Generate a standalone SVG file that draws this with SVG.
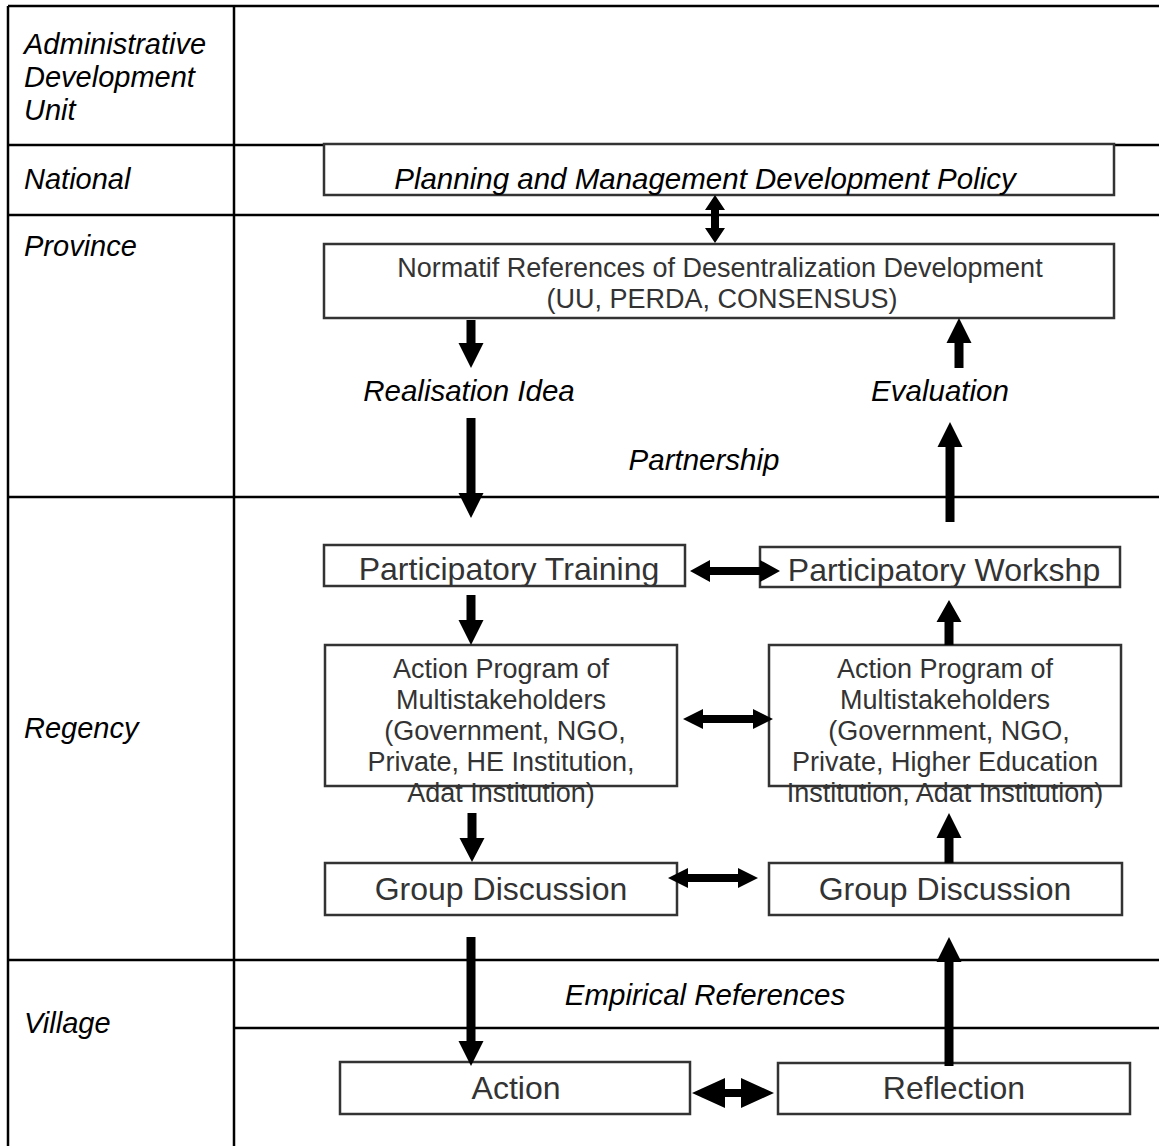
<svg xmlns="http://www.w3.org/2000/svg" width="1159" height="1146" viewBox="0 0 1159 1146">
<style>
.grid{stroke:#000;stroke-width:2.5;fill:none}
.box{fill:#fff;stroke:#333;stroke-width:2.5}
.lbl{font-family:"Liberation Sans",Arial,sans-serif;font-style:italic;font-size:29px;fill:#000}
.mid{font-family:"Liberation Sans",Arial,sans-serif;font-style:italic;font-size:29.5px;fill:#000;text-anchor:middle}
.t27{font-family:"Liberation Sans",Arial,sans-serif;font-size:27px;fill:#333;text-anchor:middle}
.t32{font-family:"Liberation Sans",Arial,sans-serif;font-size:32px;fill:#333;text-anchor:middle}
.arr{fill:#000;stroke:none}
</style>
<rect width="1159" height="1146" fill="#fff"/>
<g id="table">
<line class="grid" x1="8" y1="6" x2="1159" y2="6"/>
<line class="grid" x1="8" y1="6" x2="8" y2="1146"/>
<line class="grid" x1="234" y1="6" x2="234" y2="1146"/>
<line class="grid" x1="8" y1="145" x2="1159" y2="145"/>
<line class="grid" x1="8" y1="215" x2="1159" y2="215"/>
<line class="grid" x1="8" y1="497" x2="1159" y2="497"/>
<line class="grid" x1="8" y1="960" x2="1159" y2="960"/>
<line class="grid" x1="234" y1="1028" x2="1159" y2="1028"/>
</g>
<g id="labels">
<text class="lbl" x="24" y="54">Administrative</text>
<text class="lbl" x="24" y="87">Development</text>
<text class="lbl" x="24" y="120">Unit</text>
<text class="lbl" x="24" y="189">National</text>
<text class="lbl" x="24" y="256">Province</text>
<text class="lbl" x="24" y="738">Regency</text>
<text class="lbl" x="24" y="1033">Village</text>
<text class="mid" x="469" y="401">Realisation Idea</text>
<text class="mid" x="940" y="401">Evaluation</text>
<text class="mid" x="704" y="470">Partnership</text>
<text class="mid" x="705" y="1005">Empirical References</text>
</g>
<g id="planning">
<rect class="box" x="324" y="144" width="790" height="51"/>
<text class="mid" x="705" y="189">Planning and Management Development Policy</text>
</g>
<g id="normatif">
<rect class="box" x="324" y="244" width="790" height="74"/>
<text class="t27" x="720" y="277">Normatif References of Desentralization Development</text>
<text class="t27" x="722" y="308">(UU, PERDA, CONSENSUS)</text>
</g>
<g id="training">
<rect class="box" x="324" y="545" width="361" height="41"/>
<text class="t32" x="509" y="580">Participatory Training</text>
</g>
<g id="workshop">
<rect class="box" x="760" y="547" width="360" height="40"/>
<text class="t32" x="944" y="581">Participatory Workshp</text>
</g>
<g id="action-program-left">
<rect class="box" x="325" y="645" width="352" height="141"/>
<text class="t27" x="501" y="678">Action Program of</text>
<text class="t27" x="501" y="709">Multistakeholders</text>
<text class="t27" x="505" y="740">(Government, NGO,</text>
<text class="t27" x="501" y="771">Private, HE Institution,</text>
<text class="t27" x="501" y="802">Adat Institution)</text>
</g>
<g id="action-program-right">
<rect class="box" x="769" y="645" width="352" height="141"/>
<text class="t27" x="945" y="678">Action Program of</text>
<text class="t27" x="945" y="709">Multistakeholders</text>
<text class="t27" x="949" y="740">(Government, NGO,</text>
<text class="t27" x="945" y="771">Private, Higher Education</text>
<text class="t27" x="945" y="802">Institution, Adat Institution)</text>
</g>
<g id="group-left">
<rect class="box" x="325" y="863" width="352" height="52"/>
<text class="t32" x="501" y="900">Group Discussion</text>
</g>
<g id="group-right">
<rect class="box" x="769" y="863" width="353" height="52"/>
<text class="t32" x="945" y="900">Group Discussion</text>
</g>
<g id="action">
<rect class="box" x="340" y="1062" width="350" height="52"/>
<text class="t32" x="516" y="1099">Action</text>
</g>
<g id="reflection">
<rect class="box" x="778" y="1063" width="352" height="51"/>
<text class="t32" x="954" y="1099">Reflection</text>
</g>
<g id="connectors">
<path class="arr" d="M715 195 L725 210 L719 210 L719 228 L725 228 L715 243 L705 228 L711 228 L711 210 L705 210 Z"/>
<path class="arr" d="M466.5 320 L475.5 320 L475.5 343 L483.5 343 L471 368 L458.5 343 L466.5 343 Z"/>
<path class="arr" d="M466.5 418 L475.5 418 L475.5 493 L483.5 493 L471 518 L458.5 493 L466.5 493 Z"/>
<path class="arr" d="M954.5 368 L963.5 368 L963.5 343 L971.5 343 L959 318 L946.5 343 L954.5 343 Z"/>
<path class="arr" d="M945.5 522 L954.5 522 L954.5 447 L962.5 447 L950 422 L937.5 447 L945.5 447 Z"/>
<path class="arr" d="M690 571 L710 560 L710 567 L760 567 L760 560 L780 571 L760 582 L760 575 L710 575 L710 582 Z"/>
<path class="arr" d="M466.5 595 L475.5 595 L475.5 620 L483.5 620 L471 645 L458.5 620 L466.5 620 Z"/>
<path class="arr" d="M944.5 645 L953.5 645 L953.5 622 L961.5 622 L949 600 L936.5 622 L944.5 622 Z"/>
<path class="arr" d="M683 719 L703 709 L703 715 L753 715 L753 709 L773 719 L753 729 L753 723 L703 723 L703 729 Z"/>
<path class="arr" d="M467.5 813 L476.5 813 L476.5 838 L484.5 838 L472 862 L459.5 838 L467.5 838 Z"/>
<path class="arr" d="M944.5 863 L953.5 863 L953.5 838 L961.5 838 L949 813 L936.5 838 L944.5 838 Z"/>
<path class="arr" d="M668 878 L688 868 L688 874 L738 874 L738 868 L758 878 L738 888 L738 882 L688 882 L688 888 Z"/>
<path class="arr" d="M466.5 937 L475.5 937 L475.5 1041 L483.5 1041 L471 1066 L458.5 1041 L466.5 1041 Z"/>
<path class="arr" d="M944.5 1066 L953.5 1066 L953.5 962 L961.5 962 L949 937 L936.5 962 L944.5 962 Z"/>
<path class="arr" d="M692 1093 L725 1078 L725 1089 L741 1089 L741 1078 L774 1093 L741 1108 L741 1097 L725 1097 L725 1108 Z"/>
</g>
</svg>
